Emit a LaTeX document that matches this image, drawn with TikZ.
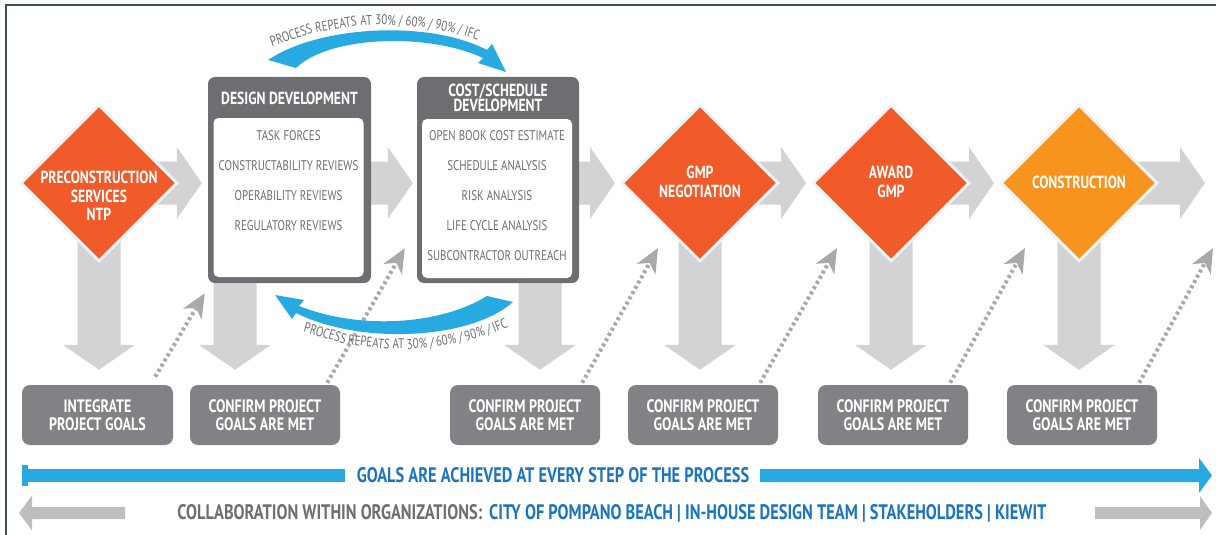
\documentclass[tikz,border=0pt]{standalone}
\usepackage{fontspec}
\setmainfont{PT Sans}[FakeStretch=0.78]
\usetikzlibrary{shapes.geometric,arrows.meta,calc}
\pgfdeclarelayer{bg}
\pgfsetlayers{bg,main}
\definecolor{orangeR}{HTML}{F15A29}
\definecolor{orangeY}{HTML}{F7941D}
\definecolor{boxdark}{HTML}{6D6E71}
\definecolor{boxmid}{HTML}{808285}
\definecolor{arrowlight}{HTML}{D1D3D4}
\definecolor{arrowbot}{HTML}{BCBEC0}
\definecolor{dotgray}{HTML}{A7A9AC}
\definecolor{skyblue}{HTML}{27AAE1}
\definecolor{textblue}{HTML}{1C75BC}
\definecolor{halo}{HTML}{F1F2F2}
\definecolor{framecol}{HTML}{3D5057}
\newcommand\blkH[2]{\fill[arrowlight] let \p1=(#1), \p2=(#2) in (\x1,\y2+21.5pt) -- (\x2-25pt,\y2+21.5pt) -- (\x2-25pt,\y2+36pt) -- (\x2,\y2) -- (\x2-25pt,\y2-36pt) -- (\x2-25pt,\y2-21.5pt) -- (\x1,\y2-21.5pt) -- cycle;}
\newcommand\blkV[2]{\fill[arrowlight] let \p1=(#1), \p2=(#2) in (\x1-21.5pt,\y1) -- (\x1-21.5pt,\y2+25pt) -- (\x1-36pt,\y2+25pt) -- (\x1,\y2) -- (\x1+36pt,\y2+25pt) -- (\x1+21.5pt,\y2+25pt) -- (\x1+21.5pt,\y1) -- cycle;}
\tikzset{
  dia/.style={diamond, draw=halo, line width=3pt, minimum width=157pt, minimum height=157pt, inner sep=0pt},
  dlabel/.style={text=white, font=\bfseries\fontsize{17.5}{18.5}\selectfont, align=center, inner sep=0pt},
  bigbox/.style={rectangle, rounded corners=7pt, fill=boxdark, inner sep=0pt},
  innerbox/.style={rectangle, rounded corners=5pt, fill=white, inner sep=0pt},
  boxtitle/.style={text=white, font=\bfseries\fontsize{17.5}{15.5}\selectfont, align=center, inner sep=0pt},
  item/.style={text=boxdark, font=\fontsize{14}{14}\selectfont, inner sep=0pt},
  goalbox/.style={rectangle, rounded corners=8pt, fill=boxmid, minimum width=150pt, minimum height=60pt, text=white, font=\bfseries\fontsize{18}{18.5}\selectfont, align=center, inner sep=0pt},
  dotarrow/.style={draw=dotgray, line width=4pt, dash pattern=on 3pt off 3pt, -{Stealth[length=24pt,width=21pt,inset=7pt]}},
  arcword/.style={anchor=base, inner sep=0pt, text=boxdark, font=\fontsize{14}{14}\selectfont}
}
\begin{document}
\begin{tikzpicture}[x=1pt,y=-1pt]
\useasboundingbox (0,0) rectangle (1216,535);
\draw[framecol, line width=2pt] (1216,5) -- (6,5) -- (6,535);

% diamonds
\node[dia, fill=orangeR] (d1) at (99,183) {};
\node[dlabel] (d1t) at (99,196) {PRECONSTRUCTION\\SERVICES\\NTP};
\node[dia, fill=orangeR] (gmp) at (700,183) {};
\node[dlabel] (gmpt) at (700,182) {GMP\\NEGOTIATION};
\node[dia, fill=orangeR] (award) at (891,183) {};
\node[dlabel] (awardt) at (891,182) {AWARD\\GMP};
\node[dia, fill=orangeY] (cons) at (1079,183) {};
\node[dlabel] (const) at (1079,182) {CONSTRUCTION};

% design development box
\node[bigbox, minimum width=163pt, minimum height=206pt] (dd) at (289.5,180) {};
\node[innerbox, minimum width=150pt, minimum height=159pt] (ddin) at (288.5,197.5) {};
\node[boxtitle] (ddt) at (289.5,98) {DESIGN DEVELOPMENT};
\node[item] (dd1) at (288.5,136) {TASK FORCES};
\node[item] (dd2) at (288.5,166) {CONSTRUCTABILITY REVIEWS};
\node[item] (dd3) at (288.5,196) {OPERABILITY REVIEWS};
\node[item] (dd4) at (288.5,226) {REGULATORY REVIEWS};

% cost/schedule box
\node[bigbox, minimum width=162pt, minimum height=206pt] (cs) at (498,180) {};
\node[innerbox, minimum width=150pt, minimum height=159pt] (csin) at (497,198.5) {};
\node[boxtitle] (cst) at (498,98) {COST/SCHEDULE\\DEVELOPMENT};
\node[item] (cs1) at (497,136) {OPEN BOOK COST ESTIMATE};
\node[item] (cs2) at (497,166) {SCHEDULE ANALYSIS};
\node[item] (cs3) at (497,196) {RISK ANALYSIS};
\node[item] (cs4) at (497,226) {LIFE CYCLE ANALYSIS};
\node[item] (cs5) at (497,256) {SUBCONTRACTOR OUTREACH};

% bottom goal boxes
\node[goalbox, minimum width=151pt] (integ) at (97.5,415) {INTEGRATE\\PROJECT GOALS};
\node[goalbox] (c1) at (265,415) {CONFIRM PROJECT\\GOALS ARE MET};
\node[goalbox] (c2) at (525,415) {CONFIRM PROJECT\\GOALS ARE MET};
\node[goalbox] (c3) at (703,415) {CONFIRM PROJECT\\GOALS ARE MET};
\node[goalbox] (c4) at (893,415) {CONFIRM PROJECT\\GOALS ARE MET};
\node[goalbox] (c5) at (1082,415) {CONFIRM PROJECT\\GOALS ARE MET};

% coordinates
\coordinate (endR) at (1205,183);
\coordinate (dv2) at (235,270);
\coordinate (dv3) at (540,270);
\coordinate (tip5) at (1213,248);

\begin{pgfonlayer}{bg}
  \blkH{d1}{$(dd.west |- d1)+(-6,0)$}
  \blkH{dd}{$(cs.west |- d1)+(-4,0)$}
  \blkH{cs}{$(gmp.west)+(-5,0)$}
  \blkH{gmp}{$(award.west)+(-5,0)$}
  \blkH{award}{$(cons.west)+(-5,0)$}
  \blkH{cons}{endR}
  \blkV{d1}{$(d1 |- integ.north)+(0,-15)$}
  \blkV{dv2}{$(dv2 |- c1.north)+(0,-15)$}
  \blkV{dv3}{$(dv3 |- c2.north)+(0,-15)$}
  \blkV{gmp}{$(gmp |- c3.north)+(0,-15)$}
  \blkV{award}{$(award |- c4.north)+(0,-15)$}
  \blkV{cons}{$(cons |- c5.north)+(0,-15)$}
\end{pgfonlayer}

% dotted feedback arrows
\draw[dotarrow] ($(integ.north east)+(-18,-8)$) -- ($(dd.south west)+(-3,10)$);
\draw[dotarrow] ($(c1.north east)+(-13,-2)$) -- ($(cs.south west)+(-12,-35)$);
\draw[dotarrow] ($(c2.north east)+(-18,-2)$) -- ($(gmp.center)+(-42,65)$);
\draw[dotarrow] ($(c3.north east)+(-18,-2)$) -- ($(award.center)+(-54,65)$);
\draw[dotarrow] ($(c4.north east)+(-18,-2)$) -- ($(cons.center)+(-54,65)$);
\draw[dotarrow] ($(c5.north east)+(-18,-2)$) -- (tip5);

% curved blue arrows with their labels
\fill[skyblue] (268,60) .. controls (320,25) and (430,20) .. (487,50) -- (492,44) -- (506,72) -- (478,63) -- (483,58) .. controls (430,33) and (330,35) .. (296,68) -- cycle;
\coordinate (ctop) at (384.5,323);
\foreach \a/\w in {-17.97/{PROCESS}, -9.22/{REPEATS}, -3.46/{AT}, 0.85/{30\% /}, 6.57/{60\% /}, 12.29/{90\% /}, 16.83/{IFC}}
  \node[arcword, rotate=-\a] at ($(ctop)+(-90+\a:298)$) {\w};
\fill[skyblue] (275,295) -- (304,300) -- (299,306) .. controls (360,330) and (440,325) .. (487,296) -- (513,302) .. controls (470,340) and (360,345) .. (296,313) -- (292,319) -- cycle;
\coordinate (cbot) at (401,79);
\foreach \a/\w in {-16.59/{PROCESS}, -6.93/{REPEATS}, -0.56/{AT}, 4.19/{30\% /}, 10.5/{60\% /}, 16.82/{90\% /}, 21.83/{IFC}}
  \node[arcword, rotate=\a] at ($(cbot)+(90-\a:270)$) {\w};

% blue goals line
\node[font=\bfseries\fontsize{21}{22}\selectfont, text=textblue, inner sep=0pt] (goals) at (553,475.5) {GOALS ARE ACHIEVED AT EVERY STEP OF THE PROCESS};
\coordinate (bL) at (22,475.5);
\coordinate (bLe) at (345,475.5);
\coordinate (bRs) at (760,475.5);
\coordinate (bR) at (1212,475.5);
\fill[skyblue] let \p1=(bL), \p2=(bLe) in (\x1,\y1+6.5pt) rectangle (\x2,\y1-6.5pt);
\fill[skyblue] let \p1=(bL) in (\x1,\y1+10.5pt) rectangle (\x1+6pt,\y1-10.5pt);
\fill[skyblue] let \p1=(bRs), \p2=(bR) in (\x1,\y2+6.5pt) -- (\x2-13pt,\y2+6.5pt) -- (\x2-13pt,\y2+17.5pt) -- (\x2,\y2) -- (\x2-13pt,\y2-17.5pt) -- (\x2-13pt,\y2-6.5pt) -- (\x1,\y2-6.5pt) -- cycle;

% collaboration line
\node[font=\bfseries\fontsize{21}{22}\selectfont, inner sep=0pt] (collab) at (612,513) {\textcolor{boxdark}{COLLABORATION WITHIN ORGANIZATIONS:}\hspace{7pt}\textcolor{textblue}{CITY OF POMPANO BEACH \textbar{} IN-HOUSE DESIGN TEAM \textbar{} STAKEHOLDERS \textbar{} KIEWIT}};
\coordinate (gL) at (19,513);
\coordinate (gLe) at (125,513);
\coordinate (gRs) at (1095,513);
\coordinate (gR) at (1212,513);
\fill[arrowbot] let \p1=(gL), \p2=(gLe) in (\x1,\y1) -- (\x1+13pt,\y1+17.5pt) -- (\x1+13pt,\y1+6pt) -- (\x2,\y1+6pt) -- (\x2,\y1-6pt) -- (\x1+13pt,\y1-6pt) -- (\x1+13pt,\y1-17.5pt) -- cycle;
\fill[arrowbot] let \p1=(gRs), \p2=(gR) in (\x1,\y2+6pt) -- (\x2-12pt,\y2+6pt) -- (\x2-12pt,\y2+17pt) -- (\x2,\y2) -- (\x2-12pt,\y2-17pt) -- (\x2-12pt,\y2-6pt) -- (\x1,\y2-6pt) -- cycle;
\end{tikzpicture}
\end{document}
